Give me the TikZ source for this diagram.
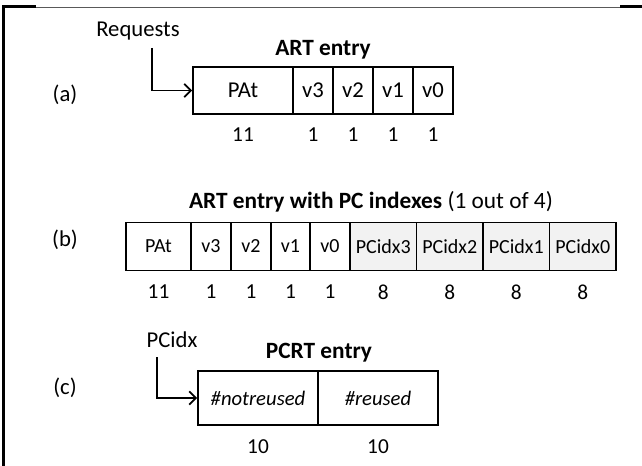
\documentclass[tikz,border=0pt]{standalone}
\usepackage{fontspec}
\setmainfont{Carlito}
\usetikzlibrary{arrows.meta}
\begin{document}
\begin{tikzpicture}[x=0.75pt,y=-0.75pt,
  every node/.style={font=\fontsize{16}{19}\selectfont, inner sep=0pt},
  cell/.style={draw=black, line width=1.4pt, minimum height={#1*0.75pt}, anchor=center},
  pcfill/.style={fill=gray!10},
  txt/.style={anchor=center},
  lbl/.style={anchor=center, font=\fontsize{17}{20}\selectfont},
  cella/.style={font=\fontsize{17}{20}\selectfont},
  cellb/.style={font=\fontsize{15}{18}\selectfont},
  cellc/.style={font=\fontsize{15.5}{18}\selectfont\itshape},
  title/.style={anchor=center, font=\fontsize{17.5}{21}\selectfont\bfseries},
  feed/.style={draw=black, line width=1.3pt, -{Straight Barb[length=5pt,width=10pt]}}
]
\useasboundingbox (0,0) rectangle (642,466);
% frame
\draw[line width=1.6pt] (3.5,466) -- (3.5,6.5) -- (36,6.5);
\draw[line width=1.1pt, draw=black!65] (36,7.5) -- (620,7.5);
\draw[line width=1.6pt] (620,6.5) -- (642,6.5);

% (a)
\node[lbl] (la) at (65,95) {(a)};
\node[lbl] (req) at (138,31) {Requests};
\node[title] (ta) at (323,50) {ART entry};
\node[cell=47, cella, minimum width={100*0.75pt}] (aP) at (243,90.5) {PAt};
\node[cell=47, cella, minimum width={40*0.75pt}] (a3) at (313,90.5) {v3};
\node[cell=47, cella, minimum width={40*0.75pt}] (a2) at (353,90.5) {v2};
\node[cell=47, cella, minimum width={40*0.75pt}] (a1) at (393,90.5) {v1};
\node[cell=47, cella, minimum width={40*0.75pt}] (a0) at (433,90.5) {v0};
\node[txt] (naP) at (243,135) {11};
\node[txt] (na3) at (313,135) {1};
\node[txt] (na2) at (353,135) {1};
\node[txt] (na1) at (393,135) {1};
\node[txt] (na0) at (433,135) {1};
\coordinate (ra) at (152,48);
\draw[feed] (ra) |- (aP.west);

% (b)
\node[lbl] (lb) at (65,240) {(b)};
\node[anchor=center, font=\fontsize{17.5}{21}\selectfont] (tb) at (371,202) {\textbf{ART entry with PC indexes} (1 out of 4)};
\node[cell=48, cellb, minimum width={65*0.75pt}] (bP) at (158.5,246.5) {PAt};
\node[cell=48, cellb, minimum width={40*0.75pt}] (b3) at (211,246.5) {v3};
\node[cell=48, cellb, minimum width={40*0.75pt}] (b2) at (251,246.5) {v2};
\node[cell=48, cellb, minimum width={39*0.75pt}] (b1) at (290.5,246.5) {v1};
\node[cell=48, cellb, minimum width={40*0.75pt}] (b0) at (330,246.5) {v0};
\node[cell=48, cellb, pcfill, minimum width={66.5*0.75pt}] (p3) at (383.25,246.5) {PCidx3};
\node[cell=48, cellb, pcfill, minimum width={66.5*0.75pt}] (p2) at (449.75,246.5) {PCidx2};
\node[cell=48, cellb, pcfill, minimum width={66.5*0.75pt}] (p1) at (516.25,246.5) {PCidx1};
\node[cell=48, cellb, pcfill, minimum width={66.5*0.75pt}] (p0) at (582.75,246.5) {PCidx0};
\node[txt] (nbP) at (158.5,292) {11};
\node[txt] (nb3) at (211,292) {1};
\node[txt] (nb2) at (251,292) {1};
\node[txt] (nb1) at (290.5,292) {1};
\node[txt] (nb0) at (330,292) {1};
\node[txt] (np3) at (383.25,292) {8};
\node[txt] (np2) at (449.75,292) {8};
\node[txt] (np1) at (516.25,292) {8};
\node[txt] (np0) at (582.75,292) {8};

% (c)
\node[lbl] (lc) at (65,388) {(c)};
\node[lbl] (pci) at (172,340) {PCidx};
\node[title] (tc) at (319,353) {PCRT entry};
\node[cell=54, cellc, minimum width={120*0.75pt}] (cn) at (258,398) {\#notreused};
\node[cell=54, cellc, minimum width={120*0.75pt}] (cr) at (378,398) {\#reused};
\node[txt] (ncn) at (258,447) {10};
\node[txt] (ncr) at (378,447) {10};
\coordinate (rc) at (157,357);
\draw[feed] (rc) |- (cn.west);
\end{tikzpicture}
\end{document}
